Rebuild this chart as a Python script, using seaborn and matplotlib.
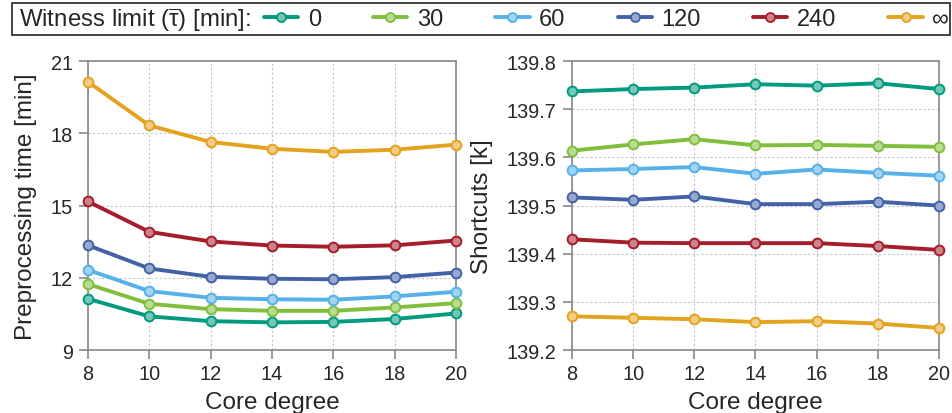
import numpy as np
import pandas as pd
import matplotlib
matplotlib.use("Agg")
import matplotlib.pyplot as plt
import matplotlib.colors as mcolors
from matplotlib.lines import Line2D
from matplotlib.patches import Rectangle
import seaborn as sns

core_degree = [8, 10, 12, 14, 16, 18, 20]
witness_limits = ["0", "30", "60", "120", "240", "∞"]
colors = ["#009a7e", "#7fbf3b", "#56b1e8", "#4262a8", "#a51c2a", "#e3a31f"]

prep_time = {
    "0":   [11.13, 10.40, 10.20, 10.15, 10.17, 10.29, 10.52],
    "30":  [11.74, 10.92, 10.70, 10.63, 10.63, 10.77, 10.95],
    "60":  [12.33, 11.45, 11.17, 11.11, 11.09, 11.23, 11.42],
    "120": [13.35, 12.39, 12.04, 11.96, 11.94, 12.03, 12.22],
    "240": [15.17, 13.91, 13.51, 13.34, 13.29, 13.35, 13.55],
    "∞":   [20.14, 18.33, 17.64, 17.36, 17.23, 17.32, 17.53],
}
shortcuts = {
    "0":   [139.737, 139.742, 139.745, 139.752, 139.749, 139.754, 139.742],
    "30":  [139.614, 139.627, 139.638, 139.625, 139.626, 139.624, 139.622],
    "60":  [139.573, 139.576, 139.580, 139.566, 139.575, 139.568, 139.562],
    "120": [139.517, 139.512, 139.519, 139.503, 139.503, 139.508, 139.500],
    "240": [139.430, 139.423, 139.422, 139.422, 139.422, 139.416, 139.408],
    "∞":   [139.270, 139.267, 139.264, 139.258, 139.260, 139.255, 139.246],
}

def long_df(d):
    rows = []
    for k in witness_limits:
        for x, y in zip(core_degree, d[k]):
            rows.append({"Core degree": x, "value": y, "limit": k})
    return pd.DataFrame(rows)

sns.set_style("ticks")
plt.rcParams["font.family"] = ["Liberation Sans", "DejaVu Sans"]
plt.rcParams["mathtext.fontset"] = "custom"
plt.rcParams["mathtext.rm"] = "Liberation Sans"
plt.rcParams["mathtext.it"] = "Liberation Sans"

palette = dict(zip(witness_limits, colors))

fig = plt.figure(figsize=(9.53, 4.14), dpi=100)
ax1 = fig.add_axes([0.0923, 0.152, 0.3862, 0.698])
ax2 = fig.add_axes([0.6002, 0.152, 0.3851, 0.698])

def lighten(c, f=0.45):
    r, g, b = mcolors.to_rgb(c)
    return (r + (1 - r) * f, g + (1 - g) * f, b + (1 - b) * f)

for ax, data, ylabel, ylim, yticks, fmt in [
    (ax1, prep_time, "Preprocessing time [min]", (9, 21), [9, 12, 15, 18, 21], "{:.0f}"),
    (ax2, shortcuts, "Shortcuts [k]", (139.2, 139.8),
     [139.2, 139.3, 139.4, 139.5, 139.6, 139.7, 139.8], "{:.1f}"),
]:
    sns.lineplot(data=long_df(data), x="Core degree", y="value", hue="limit",
                 palette=palette, marker="o", markersize=7, linewidth=2.8,
                 markeredgewidth=1.4, ax=ax, legend=False, zorder=3)
    for line, c in zip(ax.lines, colors):
        line.set_markerfacecolor(lighten(c))
        line.set_markeredgecolor(c)
        line.set_clip_on(False)
    ax.set_xlim(8, 20)
    ax.set_ylim(*ylim)
    ax.set_xticks(core_degree)
    ax.set_yticks(yticks)
    ax.set_yticklabels([fmt.format(t) for t in yticks])
    ax.set_xlabel("Core degree", fontsize=17.5, labelpad=6)
    ax.set_ylabel(ylabel, fontsize=17.5, labelpad=10)
    ax.tick_params(labelsize=14.3, color="#888888", length=6.5, width=1.2)
    ax.tick_params(axis="y", pad=4.5)
    ax.tick_params(axis="x", pad=3.5)
    ax.grid(True, linestyle=(0, (2, 2)), color="#c4c4c4", linewidth=0.8)
    for s in ax.spines.values():
        s.set_visible(True)
        s.set_color("#888888")
        s.set_linewidth(1.2)

# legend row at top
fig.patches.append(Rectangle((12.5 / 953, 1 - 36 / 414), (950 - 12.5) / 953, 32 / 414,
                             transform=fig.transFigure, fill=False,
                             edgecolor="#222222", linewidth=1.2))
fig.text(19 / 953, 1 - 20 / 414, r"Witness limit ($\overline{\tau}$) [min]:",
         fontsize=17.3, va="center", ha="left")
handles = [Line2D([], [], color=c, linewidth=2.8, marker="o", markersize=6.5,
                  markerfacecolor=lighten(c), markeredgecolor=c, markeredgewidth=1.3)
           for c in colors]
fig.legend(handles, witness_limits, ncol=6, mode="expand", frameon=False,
           loc="center", bbox_to_anchor=(264 / 953, 1 - 36 / 414, (949 - 264) / 953, 32 / 414),
           fontsize=17, handlelength=1.45, handletextpad=0.4, borderaxespad=0, borderpad=0)

fig.savefig("out.png", dpi=100)
